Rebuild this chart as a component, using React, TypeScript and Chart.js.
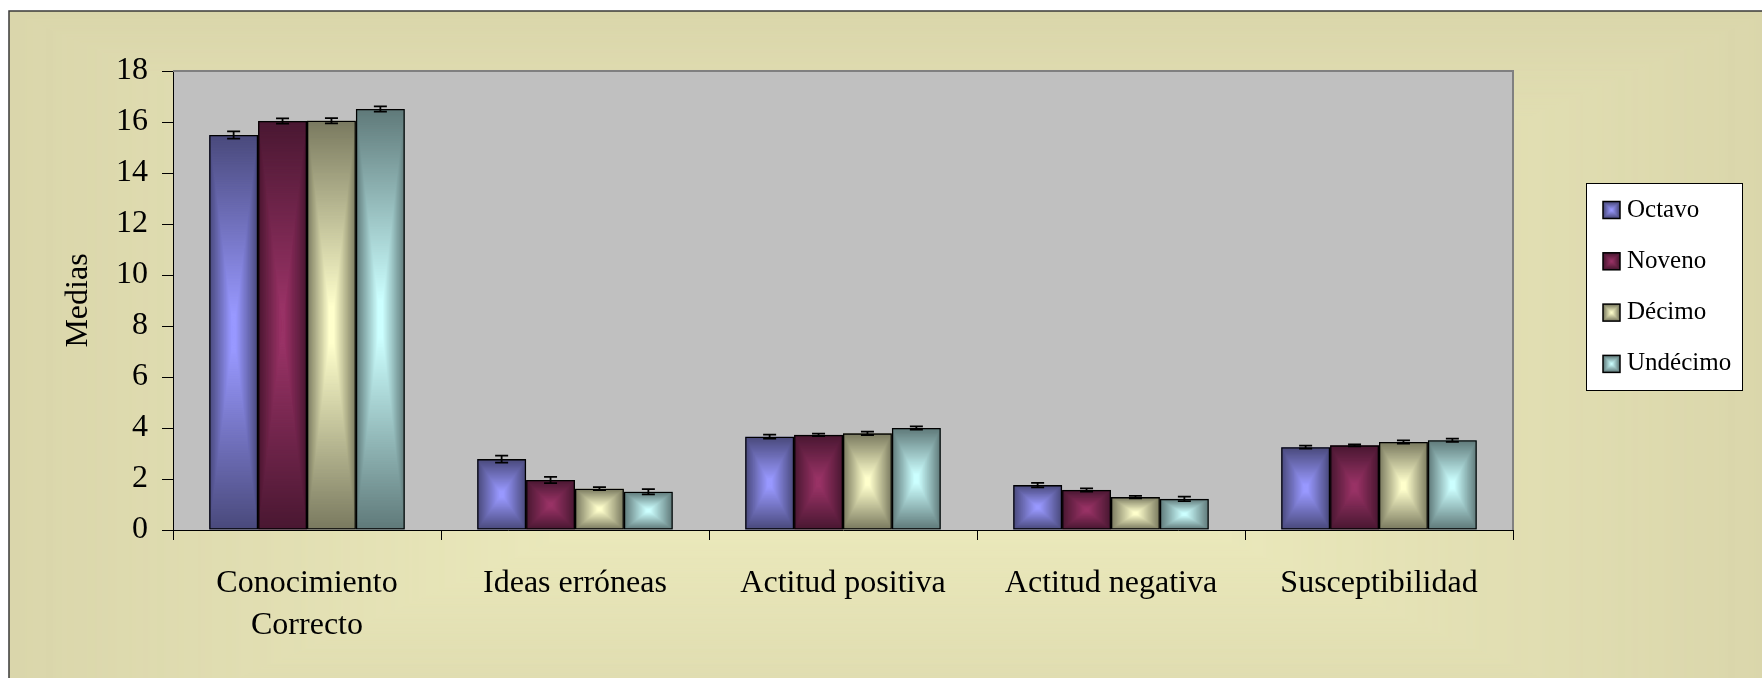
import React, { useEffect, useRef } from 'react';
import { Chart, registerables } from 'chart.js';

Chart.register(...registerables);

const FONT = "'Liberation Serif', 'Times New Roman', serif";

const categories: (string | string[])[] = [
  ['Conocimiento', 'Correcto'],
  'Ideas erróneas',
  'Actitud positiva',
  'Actitud negativa',
  'Susceptibilidad',
];
const seriesNames = ['Octavo', 'Noveno', 'Décimo', 'Undécimo'];

const octavo = [15.49, 2.78, 3.66, 1.76, 3.25];
const noveno = [16.04, 1.96, 3.73, 1.57, 3.32];
const decimo = [16.05, 1.62, 3.79, 1.29, 3.45];
const undecimo = [16.51, 1.5, 4.0, 1.22, 3.52];

const octavoErr = [0.14, 0.14, 0.08, 0.09, 0.06];
const novenoErr = [0.1, 0.12, 0.05, 0.06, 0.04];
const decimoErr = [0.1, 0.06, 0.065, 0.05, 0.065];
const undecimoErr = [0.1, 0.1, 0.065, 0.09, 0.065];

const yMin = 0;
const yMax = 18;
const yStep = 2;

const centerColors = ['#9999FF', '#993366', '#FFFFCC', '#CCFFFF'];
const edgeColors = ['#4A4A7C', '#4A1832', '#7A7A60', '#607A7A'];

const seriesValues = [octavo, noveno, decimo, undecimo];
const seriesErrors = [octavoErr, novenoErr, decimoErr, undecimoErr];

function hexToRgb(h: string): number[] {
  const v = h.replace('#', '');
  return [parseInt(v.slice(0, 2), 16), parseInt(v.slice(2, 4), 16), parseInt(v.slice(4, 6), 16)];
}

function lerpColor(a: number[], b: number[], f: number): string {
  const r = Math.round(a[0] + (b[0] - a[0]) * f);
  const g = Math.round(a[1] + (b[1] - a[1]) * f);
  const bl = Math.round(a[2] + (b[2] - a[2]) * f);
  return `rgb(${r},${g},${bl})`;
}

function rectGradient(
  ctx: CanvasRenderingContext2D,
  l: number,
  t: number,
  w: number,
  h: number,
  edge: string,
  center: string
) {
  const e = hexToRgb(edge);
  const c = hexToRgb(center);
  const steps = Math.max(8, Math.ceil(Math.max(w, h) / 2));
  for (let i = 0; i < steps; i++) {
    const f = i / steps;
    const dx = (f * w) / 2;
    const dy = (f * h) / 2;
    ctx.fillStyle = lerpColor(e, c, Math.min(1, f * 1.1));
    ctx.fillRect(l + dx, t + dy, w - 2 * dx, h - 2 * dy);
  }
}

const backgroundPlugin = {
  id: 'bgFrame',
  beforeDraw(chart: any) {
    const { ctx, width, height, chartArea } = chart;
    ctx.save();
    ctx.fillStyle = '#FFFFFF';
    ctx.fillRect(0, 0, width, height);
    const fx = 9;
    const fy = 11;
    const fw = width - fx;
    const fh = height - fy;
    rectGradient(ctx, fx, fy + 40, fw + 10, fh + 60, '#DAD6AB', '#F1F0C2');
    ctx.fillStyle = '#DAD6AB';
    ctx.fillRect(fx, fy, fw, 40);
    rectGradient(ctx, fx, fy, fw + 10, fh + 100, '#DAD6AB', '#F1F0C2');
    ctx.strokeStyle = '#3A3A3A';
    ctx.lineWidth = 1.5;
    ctx.beginPath();
    ctx.moveTo(fx, height);
    ctx.lineTo(fx, fy);
    ctx.lineTo(width, fy);
    ctx.stroke();
    ctx.fillStyle = '#C0C0C0';
    ctx.fillRect(chartArea.left, chartArea.top, chartArea.right - chartArea.left, chartArea.bottom - chartArea.top);
    ctx.restore();
  },
  beforeDatasetsDraw(chart: any) {
    const { ctx, chartArea } = chart;
    ctx.save();
    ctx.strokeStyle = '#808080';
    ctx.lineWidth = 2;
    ctx.beginPath();
    ctx.moveTo(chartArea.left, chartArea.top);
    ctx.lineTo(chartArea.right, chartArea.top);
    ctx.lineTo(chartArea.right, chartArea.bottom);
    ctx.stroke();
    chart.data.datasets.forEach((ds: any, di: number) => {
      const meta = chart.getDatasetMeta(di);
      meta.data.forEach((el: any) => {
        const left = el.x - el.width / 2;
        const top = Math.min(el.y, el.base);
        const bottom = Math.max(el.y, el.base);
        rectGradient(ctx, left, top, el.width, bottom - top, edgeColors[di], centerColors[di]);
      });
    });
    ctx.restore();
  },
  afterDatasetsDraw(chart: any) {
    const { ctx } = chart;
    const yScale = chart.scales.y;
    ctx.save();
    ctx.strokeStyle = '#000000';
    ctx.lineWidth = 1.8;
    chart.data.datasets.forEach((ds: any, di: number) => {
      const meta = chart.getDatasetMeta(di);
      meta.data.forEach((el: any, i: number) => {
        const v = seriesValues[di][i];
        const e = seriesErrors[di][i];
        const yTop = yScale.getPixelForValue(v + e);
        const yBot = yScale.getPixelForValue(v - e);
        const x = el.x;
        const cap = 6.5;
        ctx.beginPath();
        ctx.moveTo(x, yTop);
        ctx.lineTo(x, yBot);
        ctx.moveTo(x - cap, yTop);
        ctx.lineTo(x + cap, yTop);
        ctx.moveTo(x - cap, yBot);
        ctx.lineTo(x + cap, yBot);
        ctx.stroke();
      });
    });
    ctx.restore();
  },
  afterDraw(chart: any) {
    const { ctx } = chart;
    ctx.save();
    const bx = 1586;
    const by = 183;
    const bw = 156;
    const bh = 207;
    ctx.fillStyle = '#FFFFFF';
    ctx.fillRect(bx, by, bw, bh);
    ctx.strokeStyle = '#000000';
    ctx.lineWidth = 1;
    ctx.strokeRect(bx + 0.5, by + 0.5, bw, bh);
    ctx.font = `25px ${FONT}`;
    ctx.textBaseline = 'middle';
    ctx.textAlign = 'left';
    seriesNames.forEach((name, i) => {
      const cy = 210 + i * 51.3;
      const sq = 17;
      const sx = 1603;
      const sy = cy - sq / 2;
      rectGradient(ctx, sx, sy, sq, sq, edgeColors[i], centerColors[i]);
      ctx.strokeStyle = '#000000';
      ctx.lineWidth = 1.5;
      ctx.strokeRect(sx, sy, sq, sq);
      ctx.fillStyle = '#000000';
      ctx.fillText(name, 1627, cy);
    });
    ctx.restore();
  },
};

export default function App() {
  const canvasRef = useRef<HTMLCanvasElement | null>(null);

  useEffect(() => {
    if (!canvasRef.current) return;
    const chart = new Chart(canvasRef.current, {
      type: 'bar',
      data: {
        labels: categories,
        datasets: seriesNames.map((name, i) => ({
          label: name,
          data: seriesValues[i],
          backgroundColor: 'rgba(0,0,0,0)',
          borderColor: '#000000',
          borderWidth: 1.3,
          borderSkipped: false,
          categoryPercentage: 0.73,
          barPercentage: 1,
        })),
      },
      options: {
        responsive: false,
        animation: false,
        layout: { padding: { top: 71, right: 249, left: 0, bottom: 0 } },
        plugins: {
          legend: { display: false },
          tooltip: { enabled: false },
        },
        scales: {
          x: {
            grid: {
              display: true,
              drawOnChartArea: false,
              drawTicks: true,
              tickLength: 10,
              color: '#000000',
              tickColor: '#000000',
              offset: true,
            },
            border: { display: true, color: '#000000', width: 1 },
            ticks: {
              color: '#000000',
              font: { family: FONT, size: 32, lineHeight: 1.31 },
              padding: 23,
              maxRotation: 0,
              autoSkip: false,
            },
            afterFit: (s: any) => {
              s.height = 148;
            },
          },
          y: {
            min: yMin,
            max: yMax,
            ticks: {
              stepSize: yStep,
              color: '#000000',
              font: { family: FONT, size: 32 },
              padding: 14,
            },
            grid: {
              drawOnChartArea: false,
              tickLength: 11,
              color: '#000000',
              tickColor: '#000000',
            },
            border: { display: true, color: '#000000', width: 1 },
            title: {
              display: true,
              text: 'Medias',
              color: '#000000',
              font: { family: FONT, size: 32, lineHeight: 1 },
              padding: { top: 63, bottom: 0 },
            },
            afterFit: (s: any) => {
              s.width = 173;
            },
          },
        },
      },
      plugins: [backgroundPlugin],
    });
    return () => chart.destroy();
  }, []);

  return (
    <div style={{ position: 'absolute', left: 0, top: 0, width: 1762, height: 678 }}>
      <canvas ref={canvasRef} width={1762} height={678} style={{ display: 'block' }} />
    </div>
  );
}
